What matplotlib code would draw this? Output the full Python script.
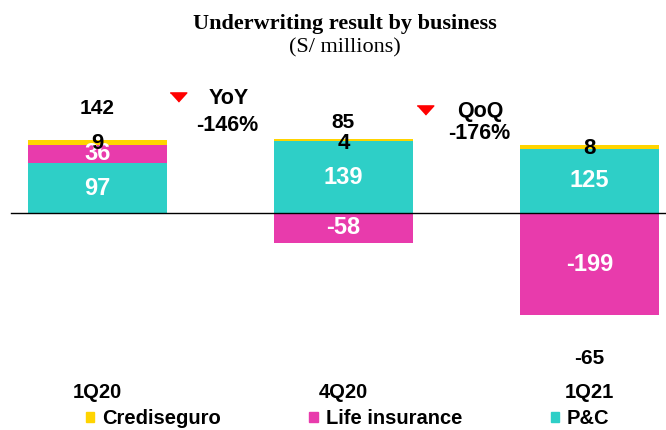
import numpy as np
import matplotlib.pyplot as plt
from matplotlib.patches import Patch

# Data (S/ millions)
quarters = ['1Q20', '4Q20', '1Q21']
pc = [97, 139, 125]
life = [36, -58, -199]
crediseguro = [9, 4, 8]
totals = [142, 85, -65]

c_yellow = '#FFD400'
c_pink = '#E83BAC'
c_teal = '#2ECFC7'

plt.rcParams['font.family'] = ['Liberation Sans', 'DejaVu Sans']

fig = plt.figure(figsize=(6.66, 4.30), dpi=100)
ax = fig.add_axes([0, 0, 1, 1])
ax.set_xlim(-0.396, 2.311)
ax.set_ylim(-421.4, 413.6)
ax.axis('off')

x = np.arange(len(quarters))
w = 0.565
pc_arr = np.array(pc)
life_arr = np.array(life)
cred_arr = np.array(crediseguro)

# P&C at the bottom, life stacked on top if positive, below zero if negative
ax.bar(x, pc_arr, w, color=c_teal)
life_bottom = np.where(life_arr > 0, pc_arr, 0)
ax.bar(x, life_arr, w, bottom=life_bottom, color=c_pink)
pos_top = pc_arr + np.clip(life_arr, 0, None)
ax.bar(x, cred_arr, w, bottom=pos_top, color=c_yellow)

ax.axhline(0, xmin=11 / 666, xmax=1, color='black', lw=1)

# segment labels
for i in range(len(quarters)):
    ax.text(x[i], pc[i] / 2, str(pc[i]), ha='center', va='center',
            color='white', fontsize=17, fontweight='bold')
    ax.text(x[i], life_bottom[i] + life[i] / 2, str(life[i]), ha='center',
            va='center', color='white', fontsize=17, fontweight='bold')
    ax.text(x[i], pos_top[i] + cred_arr[i] - 8, str(crediseguro[i]),
            ha='center', va='center', color='black', fontsize=16,
            fontweight='bold')

# totals
total_y = [203, 176, -282]
for i in range(len(quarters)):
    ax.text(x[i], total_y[i], str(totals[i]), ha='center', va='center',
            fontsize=15, fontweight='bold')

# category labels
for i, q in enumerate(quarters):
    ax.text(x[i], -348, q, ha='center', va='center', fontsize=14.5,
            fontweight='bold')

# YoY / QoQ variation
tri = [(-1, 0.55), (1, 0.55), (0, -0.55)]
ax.plot([0.327], [225], marker=tri, color='#FF0000', markersize=12,
        linestyle='none')
ax.text(0.532, 223, 'YoY', ha='center', va='center', fontsize=15.5,
        fontweight='bold')
ax.text(0.528, 170, '-146%', ha='center', va='center', fontsize=15.5,
        fontweight='bold')
ax.plot([1.331], [200], marker=tri, color='#FF0000', markersize=12,
        linestyle='none')
ax.text(1.555, 198, 'QoQ', ha='center', va='center', fontsize=15.5,
        fontweight='bold')
ax.text(1.553, 155, '-176%', ha='center', va='center', fontsize=15.5,
        fontweight='bold')

# title
serif = ['Liberation Serif', 'DejaVu Serif']
fig.text(345 / 666, 1 - 24 / 430, 'Underwriting result by business',
         ha='center', va='center', fontsize=16, fontweight='bold', family=serif)
fig.text(345 / 666, 1 - 48 / 430, '(S/ millions)', ha='center', va='center',
         fontsize=16, family=serif)

handles = [Patch(color=c_yellow, label='Crediseguro'),
           Patch(color=c_pink, label='Life insurance'),
           Patch(color=c_teal, label='P&C')]
fig.legend(handles=handles, loc='center left',
           bbox_to_anchor=(86 / 666, 1 - 419 / 430),
           ncol=3, frameon=False, handlelength=0.4, handleheight=0.4,
           handletextpad=0.4, columnspacing=4.4, borderaxespad=0, borderpad=0,
           prop={'size': 14.5, 'weight': 'bold'})

fig.savefig('out.png', dpi=100)
